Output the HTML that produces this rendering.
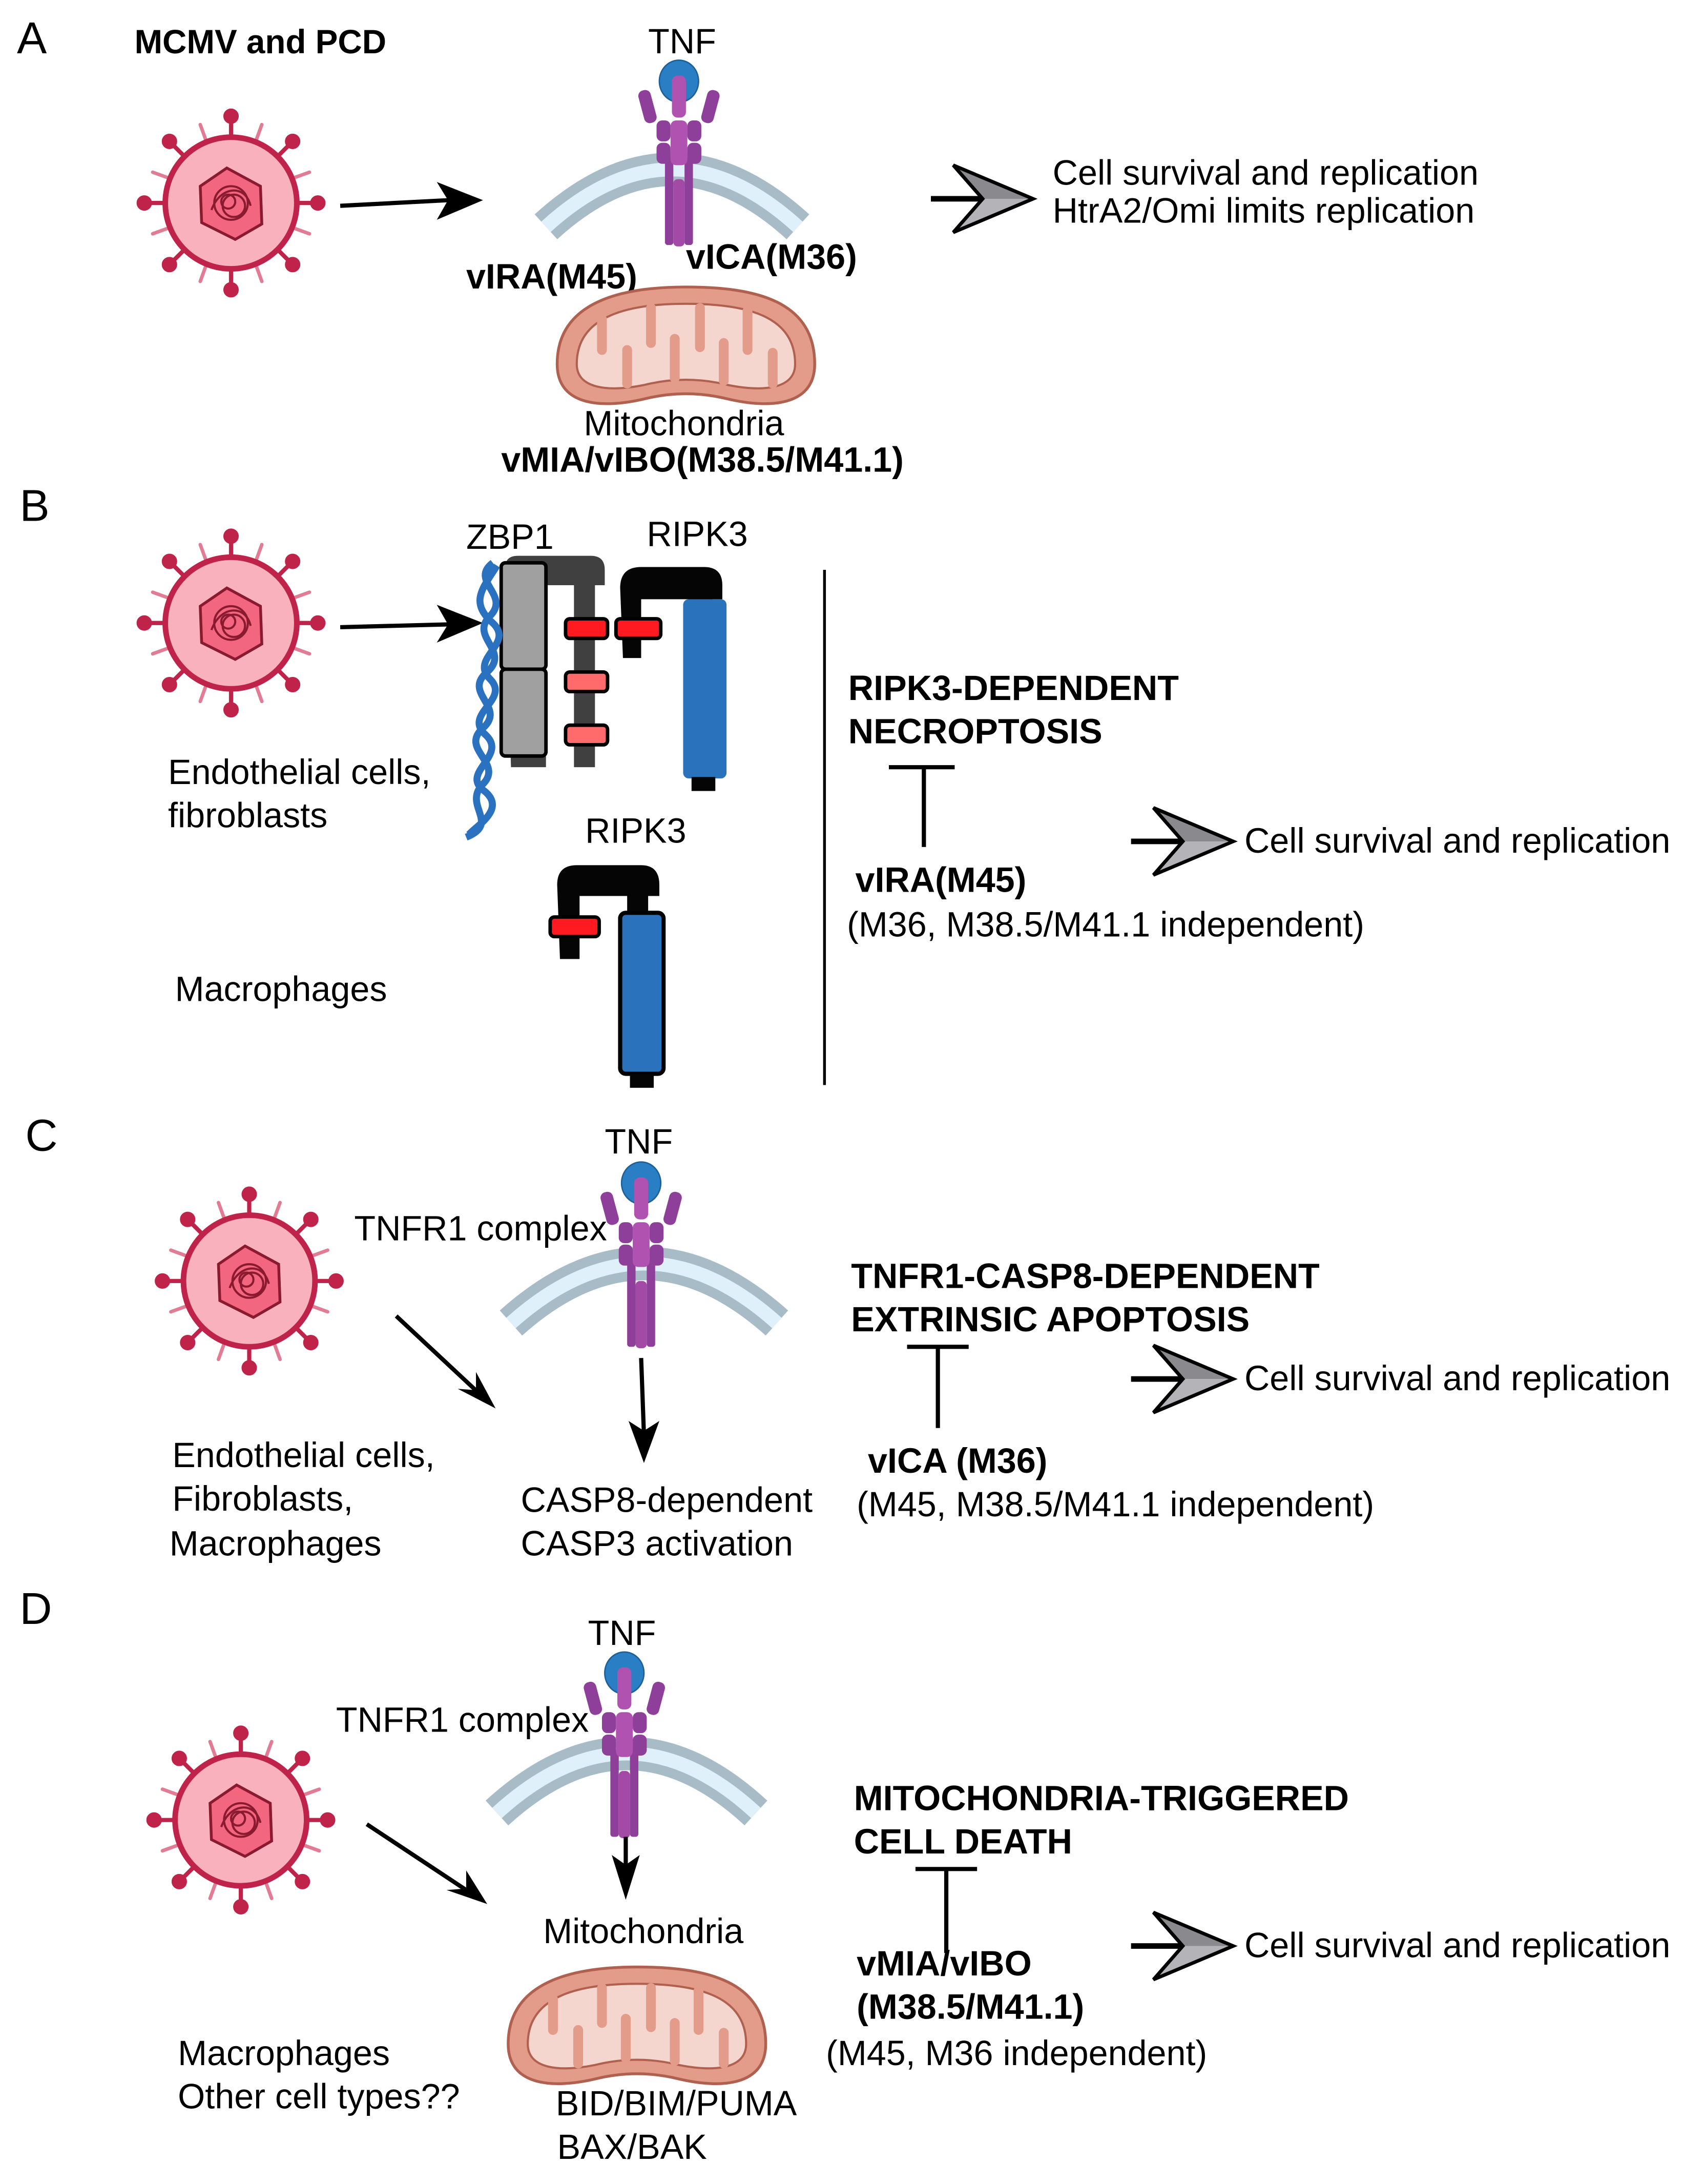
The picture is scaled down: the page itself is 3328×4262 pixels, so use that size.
<!DOCTYPE html>
<html><head><meta charset="utf-8"><style>html,body{margin:0;padding:0;background:#fff}svg{display:block}</style></head>
<body>
<svg xmlns="http://www.w3.org/2000/svg" width="3328" height="4262" viewBox="0 0 1218 1560" font-family="Liberation Sans, Arial, sans-serif">
<defs>
<g id="virus">
  <g stroke-linecap="round">
    <g stroke="#c0234a" stroke-width="3" fill="#c0234a">
      <line x1="0" y1="-48" x2="0" y2="-62"/><circle cx="0" cy="-62" r="4"/>
      <line x1="0" y1="48" x2="0" y2="62"/><circle cx="0" cy="62" r="4"/>
      <line x1="-48" y1="0" x2="-62" y2="0"/><circle cx="-62" cy="0" r="4"/>
      <line x1="48" y1="0" x2="62" y2="0"/><circle cx="62" cy="0" r="4"/>
      <line x1="34" y1="-34" x2="44" y2="-44"/><circle cx="44" cy="-44" r="4"/>
      <line x1="-34" y1="34" x2="-44" y2="44"/><circle cx="-44" cy="44" r="4"/>
      <line x1="34" y1="34" x2="44" y2="44"/><circle cx="44" cy="44" r="4"/>
      <line x1="-34" y1="-34" x2="-44" y2="-44"/><circle cx="-44" cy="-44" r="4"/>
    </g>
    <g stroke="#e27c95" stroke-width="2.5">
      <line x1="18" y1="-45" x2="22" y2="-56"/><line x1="-18" y1="-45" x2="-22" y2="-56"/>
      <line x1="18" y1="45" x2="22" y2="56"/><line x1="-18" y1="45" x2="-22" y2="56"/>
      <line x1="45" y1="18" x2="56" y2="22"/><line x1="45" y1="-18" x2="56" y2="-22"/>
      <line x1="-45" y1="18" x2="-56" y2="22"/><line x1="-45" y1="-18" x2="-56" y2="-22"/>
    </g>
  </g>
  <circle r="47" fill="#f9b2bd" stroke="#c0234a" stroke-width="4"/>
  <polygon points="-3,-25 21,-12 22,15 3,26 -21,14 -22,-12" fill="#f2667f" stroke="#8a1a30" stroke-width="2"/>
  <g fill="none" stroke="#8a1a30" stroke-width="1.5">
    <circle cx="0" cy="0" r="12"/><circle cx="2" cy="2" r="8"/><circle cx="-2" cy="-1" r="5"/><path d="M-14,5 C-8,-12 10,-14 14,2"/>
  </g>
</g>
<g id="receptor">
  <!-- origin at TNF blob center -->
  <rect x="-10" y="55" width="6" height="62" rx="2" fill="#8e3f99"/>
  <rect x="4" y="55" width="6" height="62" rx="2" fill="#8e3f99"/>
  <rect x="-4" y="70" width="8" height="48" rx="3" fill="#a24aa6"/>
  <rect x="-16" y="28" width="10" height="15" rx="4" fill="#8e3f99"/>
  <rect x="6" y="28" width="10" height="15" rx="4" fill="#8e3f99"/>
  <rect x="-16" y="44" width="10" height="15" rx="4" fill="#8e3f99"/>
  <rect x="6" y="44" width="10" height="15" rx="4" fill="#8e3f99"/>
  <rect x="-6" y="28" width="12" height="32" rx="4" fill="#b052b0"/>
  <rect x="-27" y="6" width="9" height="24" rx="4" fill="#8e3f99" transform="rotate(-15 -22 18)"/>
  <rect x="18" y="6" width="9" height="24" rx="4" fill="#8e3f99" transform="rotate(15 22 18)"/>
  <ellipse cx="0" cy="0" rx="14" ry="15" fill="#2a7fc4" stroke="#1c5f99" stroke-width="1"/>
  <rect x="-5" y="-4" width="10" height="30" rx="4" fill="#b052b0"/>
</g>
<g id="mito">
  <path d="M-92,10 C-92,-35 -45,-45 0,-45 C50,-45 92,-35 92,10 C92,40 60,42 30,35 C10,30 -10,30 -30,35 C-60,42 -92,40 -92,10 Z" fill="#e39b8a" stroke="#b0604f" stroke-width="2"/>
  <path d="M-78,10 C-78,-25 -40,-33 0,-33 C42,-33 78,-25 78,10 C78,28 55,30 30,25 C10,20 -10,20 -30,25 C-55,30 -78,28 -78,10 Z" fill="#f5d6cf" stroke="#b0604f" stroke-width="1.5"/>
  <g stroke="#e39b8a" stroke-width="7" stroke-linecap="round" fill="none">
    <line x1="-60" y1="-22" x2="-60" y2="0"/><line x1="-42" y1="24" x2="-42" y2="0"/>
    <line x1="-25" y1="-30" x2="-25" y2="-5"/><line x1="-8" y1="20" x2="-8" y2="-8"/>
    <line x1="10" y1="-30" x2="10" y2="-2"/><line x1="27" y1="22" x2="27" y2="-5"/>
    <line x1="44" y1="-28" x2="44" y2="0"/><line x1="62" y1="24" x2="62" y2="2"/>
  </g>
</g>
<g id="chev">
  <line x1="0" y1="0" x2="38" y2="0" stroke="#000" stroke-width="4"/>
  <polygon points="16,-24 73,0 37,0" fill="#8a8a8e"/>
  <polygon points="37,0 73,0 16,24" fill="#b4b4b8"/>
  <polygon points="16,-24 73,0 16,24 37,0" fill="none" stroke="#000" stroke-width="2.5" stroke-linejoin="miter"/>
</g>
</defs>

<g font-size="25" fill="#000">
<!-- A -->
<text x="12" y="38" font-size="32">A</text>
<text x="96" y="38" font-weight="bold" font-size="24">MCMV and PCD</text>
<use href="#virus" x="165" y="145"/>
<line x1="243" y1="147" x2="320" y2="143" stroke="#000" stroke-width="3"/>
<path d="M345,143 L312,130 L320,143 L312,157 Z" fill="#000"/>
<path d="M390,162 Q480,80 570,162" fill="none" stroke="#a8bcc8" stroke-width="24"/>
<path d="M390,162 Q480,80 570,162" fill="none" stroke="#dff0fa" stroke-width="10"/>
<use href="#receptor" x="485" y="58"/>
<text x="463" y="38">TNF</text>
<text x="333" y="206" font-weight="bold">vIRA(M45)</text>
<text x="490" y="192" font-weight="bold">vICA(M36)</text>
<use href="#mito" x="490" y="250"/>
<text x="417" y="311">Mitochondria</text>
<text x="358" y="337" font-weight="bold">vMIA/vIBO(M38.5/M41.1)</text>
<use href="#chev" x="665" y="142"/>
<text x="752" y="132">Cell survival and replication</text>
<text x="752" y="159">HtrA2/Omi limits replication</text>

<!-- B -->
<text x="14" y="372" font-size="32">B</text>
<use href="#virus" x="165" y="445"/>
<line x1="243" y1="448" x2="320" y2="446" stroke="#000" stroke-width="3"/>
<path d="M345,445 L312,432 L320,446 L312,459 Z" fill="#000"/>
<text x="333" y="392">ZBP1</text>
<text x="462" y="390">RIPK3</text>
<path d="M361,405 Q361,397 370,397 L422,397 Q432,397 432,407 L432,418 L425,418 L425,548 L410,548 L410,418 L390,418 L390,548 L365,548 Z" fill="#404040"/>
<rect x="358" y="402" width="32" height="76" rx="3" fill="#a0a0a0" stroke="#000" stroke-width="2.5"/>
<rect x="358" y="478" width="32" height="62" rx="3" fill="#a0a0a0" stroke="#000" stroke-width="2.5"/>
<rect x="404" y="442" width="30" height="14" rx="3" fill="#ff1a22" stroke="#000" stroke-width="2.5"/>
<rect x="404" y="480" width="30" height="14" rx="3" fill="#ff6b6b" stroke="#000" stroke-width="2.5"/>
<rect x="404" y="518" width="30" height="14" rx="3" fill="#ff6b6b" stroke="#000" stroke-width="2.5"/>
<g fill="none" stroke="#2a72c0" stroke-width="5">
  <path d="M352,402 C335,415 365,425 350,440 C335,455 365,465 348,480 C330,495 362,505 345,520 C328,535 360,545 345,560 C330,575 358,588 333,598"/>
  <path d="M355,404 C345,420 335,430 352,445 C368,460 335,470 350,485 C365,500 330,510 347,525 C363,540 328,552 346,565 C362,578 340,590 335,596"/>
</g>
<path d="M443,420 Q443,405 458,405 L503,405 Q516,405 516,418 L516,428 L509,428 L509,440 L492,440 L492,428 L458,428 L458,470 L445,470 Z" fill="#050505"/>
<rect x="488" y="428" width="31" height="128" rx="4" fill="#2a72bb"/>
<rect x="494" y="555" width="17" height="10" fill="#050505"/>
<rect x="440" y="442" width="32" height="14" rx="3" fill="#ff1a22" stroke="#000" stroke-width="2.5"/>
<text x="418" y="602">RIPK3</text>
<path d="M398,632 Q398,618 412,618 L458,618 Q471,618 471,632 L471,640 L463,640 L463,655 L448,655 L448,640 L414,640 L414,685 L400,685 Z" fill="#050505"/>
<rect x="443" y="652" width="31" height="115" rx="4" fill="#2a72bb" stroke="#000" stroke-width="3"/>
<rect x="450" y="767" width="17" height="10" fill="#050505"/>
<rect x="393" y="655" width="35" height="14" rx="3" fill="#ff1a22" stroke="#000" stroke-width="2.5"/>
<text x="120" y="560">Endothelial cells,</text>
<text x="120" y="591">fibroblasts</text>
<text x="125" y="715">Macrophages</text>
<line x1="589" y1="407" x2="589" y2="775" stroke="#000" stroke-width="2"/>
<text x="606" y="500" font-weight="bold">RIPK3-DEPENDENT</text>
<text x="606" y="531" font-weight="bold">NECROPTOSIS</text>
<line x1="635" y1="548" x2="682" y2="548" stroke="#000" stroke-width="3"/>
<line x1="660" y1="548" x2="660" y2="605" stroke="#000" stroke-width="3"/>
<text x="611" y="637" font-weight="bold">vIRA(M45)</text>
<text x="605" y="669">(M36, M38.5/M41.1 independent)</text>
<use href="#chev" x="808" y="601"/>
<text x="889" y="609">Cell survival and replication</text>

<!-- C -->
<text x="18" y="822" font-size="32">C</text>
<text x="432" y="824">TNF</text>
<path d="M365,945 Q460,860 555,945" fill="none" stroke="#a8bcc8" stroke-width="24"/>
<path d="M365,945 Q460,860 555,945" fill="none" stroke="#dff0fa" stroke-width="10"/>
<use href="#receptor" x="458" y="845"/>
<text x="253" y="886">TNFR1 complex</text>
<use href="#virus" x="178" y="915"/>
<line x1="283" y1="940" x2="343" y2="996" stroke="#000" stroke-width="3"/>
<path d="M354,1006 L327,992 L340,993 L340,980 Z" fill="#000"/>
<line x1="458" y1="970" x2="460" y2="1025" stroke="#000" stroke-width="3"/>
<path d="M460,1045 L449,1015 L460,1022 L471,1015 Z" fill="#000"/>
<text x="372" y="1080">CASP8-dependent</text>
<text x="372" y="1111">CASP3 activation</text>
<text x="123" y="1048">Endothelial cells,</text>
<text x="123" y="1079">Fibroblasts,</text>
<text x="121" y="1111">Macrophages</text>
<text x="608" y="920" font-weight="bold">TNFR1-CASP8-DEPENDENT</text>
<text x="608" y="951" font-weight="bold">EXTRINSIC APOPTOSIS</text>
<line x1="648" y1="962" x2="692" y2="962" stroke="#000" stroke-width="3"/>
<line x1="670" y1="962" x2="670" y2="1020" stroke="#000" stroke-width="3"/>
<text x="620" y="1052" font-weight="bold">vICA (M36)</text>
<text x="612" y="1083">(M45, M38.5/M41.1 independent)</text>
<use href="#chev" x="808" y="985"/>
<text x="889" y="993">Cell survival and replication</text>

<!-- D -->
<text x="14" y="1160" font-size="32">D</text>
<text x="420" y="1175">TNF</text>
<path d="M355,1295 Q448,1210 540,1295" fill="none" stroke="#a8bcc8" stroke-width="24"/>
<path d="M355,1295 Q448,1210 540,1295" fill="none" stroke="#dff0fa" stroke-width="10"/>
<use href="#receptor" x="446" y="1195"/>
<text x="240" y="1237">TNFR1 complex</text>
<use href="#virus" x="172" y="1300"/>
<line x1="262" y1="1303" x2="336" y2="1352" stroke="#000" stroke-width="3"/>
<path d="M348,1360 L319,1350 L333,1349 L333,1336 Z" fill="#000"/>
<line x1="447" y1="1312" x2="447" y2="1340" stroke="#000" stroke-width="3"/>
<path d="M447,1357 L437,1325 L447,1332 L457,1325 Z" fill="#000"/>
<text x="388" y="1388">Mitochondria</text>
<use href="#mito" x="455" y="1450"/>
<text x="397" y="1511">BID/BIM/PUMA</text>
<text x="398" y="1542">BAX/BAK</text>
<text x="127" y="1475">Macrophages</text>
<text x="127" y="1506">Other cell types??</text>
<text x="610" y="1293" font-weight="bold">MITOCHONDRIA-TRIGGERED</text>
<text x="610" y="1324" font-weight="bold">CELL DEATH</text>
<line x1="654" y1="1335" x2="698" y2="1335" stroke="#000" stroke-width="3"/>
<line x1="676" y1="1335" x2="676" y2="1395" stroke="#000" stroke-width="3"/>
<text x="612" y="1411" font-weight="bold">vMIA/vIBO</text>
<text x="612" y="1442" font-weight="bold">(M38.5/M41.1)</text>
<text x="590" y="1475">(M45, M36 independent)</text>
<use href="#chev" x="808" y="1390"/>
<text x="889" y="1398">Cell survival and replication</text>
</g>
</svg>
</body></html>
